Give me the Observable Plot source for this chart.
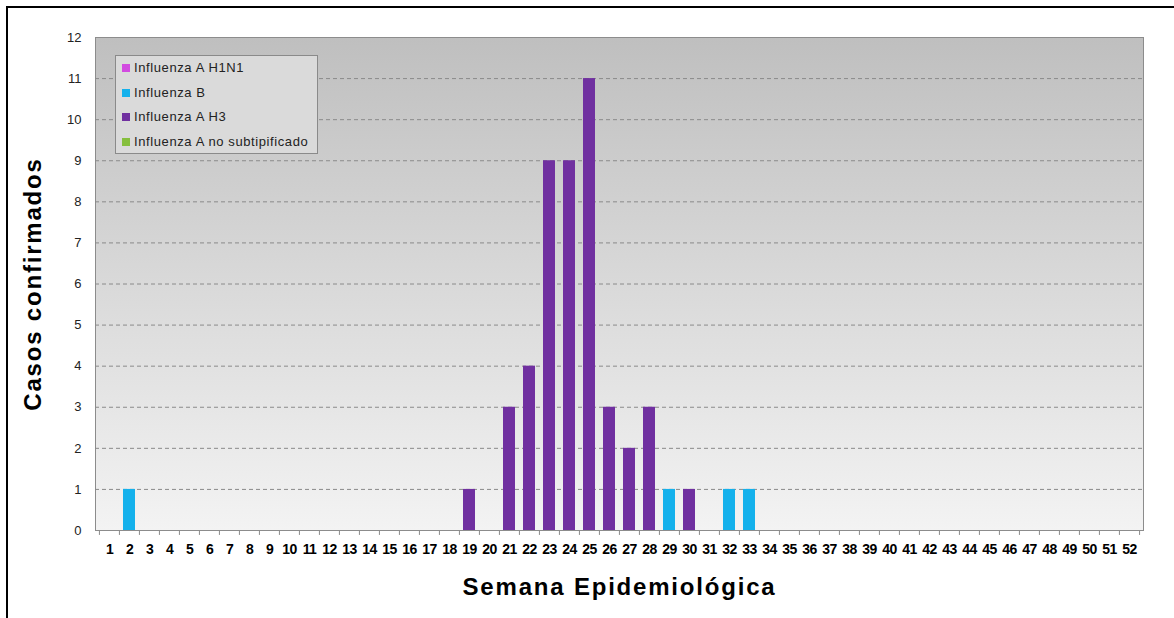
<!DOCTYPE html>
<html>
<head>
<meta charset="utf-8">
<script src="https://cdn.jsdelivr.net/npm/d3@7"></script>
<script src="https://cdn.jsdelivr.net/npm/@observablehq/plot@0.6"></script>
<style>
  html, body { margin: 0; padding: 0; background: #fff; width: 1174px; height: 618px; overflow: hidden; }
  #frame { position: absolute; left: 6px; top: 6px; width: 1300px; height: 800px; border: 2px solid #000; box-sizing: border-box; }
  #chart { position: absolute; left: 0; top: 0; }
  #legend { position: absolute; left: 115px; top: 55px; width: 201px; height: 97px; background: #dadada; border: 1px solid #8a8a8a;
            font-family: "Liberation Sans", Arial, sans-serif; font-size: 13px; letter-spacing: 0.6px; color: #222; }
  #legend .item { position: absolute; left: 6px; height: 14px; line-height: 14px; white-space: nowrap; }
  #legend .sw { display: inline-block; width: 8px; height: 8px; margin-right: 4px; vertical-align: 0px; }
</style>
</head>
<body>
<div id="frame"></div>
<div id="chart"></div>
<div id="legend"></div>
<script>
// ---- data ----
const weeks = [1,2,3,4,5,6,7,8,9,10,11,12,13,14,15,16,17,18,19,20,21,22,23,24,25,26,27,28,29,30,31,32,33,34,35,36,37,38,39,40,41,42,43,44,45,46,47,48,49,50,51,52];
const seriesNames = ["Influenza A H1N1", "Influenza B", "Influenza A H3", "Influenza A no subtipificado"];
const seriesColors = ["#d24be0", "#14b1ec", "#7030a0", "#86bf3e"];
const yTicks = [0,1,2,3,4,5,6,7,8,9,10,11,12];

const h1n1Weeks = [];
const h1n1Counts = [];
const bWeeks = [2, 29, 32, 33];
const bCounts = [1, 1, 1, 1];
const h3Weeks = [19, 21, 22, 23, 24, 25, 26, 27, 28, 30];
const h3Counts = [1, 3, 4, 9, 9, 11, 3, 2, 3, 1];
const nsWeeks = [];
const nsCounts = [];

const yTitle = "Casos confirmados";
const xTitle = "Semana Epidemiológica";

// ---- build table ----
const rows = [];
[[h1n1Weeks, h1n1Counts, 0], [bWeeks, bCounts, 1], [h3Weeks, h3Counts, 2], [nsWeeks, nsCounts, 3]].forEach(([w, c, i]) => {
  w.forEach((wk, j) => rows.push({week: wk, count: c[j], series: seriesNames[i]}));
});

const W = 1174, H = 618, mL = 95, mR = 31, mT = 37, mB = 88;
const bw = (W - mL - mR) / weeks.length;
const boundaryTicks = weeks.map(w => ({week: w, off: -1})).concat([{week: weeks[weeks.length - 1], off: 1}]);

const chart = Plot.plot({
  width: W, height: H,
  marginLeft: mL, marginRight: mR, marginTop: mT, marginBottom: mB,
  style: {background: "transparent", overflow: "visible"},
  x: {type: "band", domain: weeks, padding: 0.4, label: null},
  y: {domain: [0, 12], label: null},
  color: {domain: seriesNames, range: seriesColors},
  marks: [
    Plot.frame({fill: "url(#bgGrad)", stroke: "#8c8c8c"}),
    Plot.gridY({ticks: yTicks.slice(1, -1), stroke: "#8a8a8a", strokeOpacity: 1, strokeDasharray: "4,3"}),
    Plot.barY(rows, {x: "week", y: "count", fill: "series"}),
    Plot.ruleY([0], {stroke: "#8c8c8c"}),
    Plot.ruleX(boundaryTicks.filter(d => d.off < 0), {x: "week", y1: 0, y2: -0.12, dx: -bw / 2, stroke: "#8c8c8c"}),
    Plot.ruleX(boundaryTicks.filter(d => d.off > 0), {x: "week", y1: 0, y2: -0.12, dx: bw / 2, stroke: "#8c8c8c"}),
    Plot.axisY({ticks: yTicks, tickSize: 0, tickPadding: 14, label: null, fontSize: 13, fill: "#222",
                fontFamily: "Liberation Sans, Arial, sans-serif"}),
    Plot.axisX({tickSize: 0, tickPadding: 14, label: null, fontSize: 14, fontWeight: "bold", fill: "#000",
                fontFamily: "Liberation Sans Narrow, Arial Narrow, Liberation Sans, sans-serif"}),
    Plot.text([yTitle], {frameAnchor: "left", dx: -62, rotate: -90, textAnchor: "middle", fontSize: 24, fontWeight: "bold",
                fontFamily: "Liberation Sans, Arial, sans-serif", fill: "#000", text: d => d}),
    Plot.text([xTitle], {frameAnchor: "bottom", dy: 64.5, textAnchor: "middle", fontSize: 24, fontWeight: "bold",
                fontFamily: "Liberation Sans, Arial, sans-serif", fill: "#000", text: d => d})
  ]
});

const svg = d3.select(chart.tagName === "svg" ? chart : chart.querySelector("svg"));
// gradient background definition
const defs = svg.insert("defs", ":first-child");
const grad = defs.append("linearGradient").attr("id", "bgGrad").attr("x1", 0).attr("y1", 0).attr("x2", 0).attr("y2", 1);
grad.append("stop").attr("offset", "0%").attr("stop-color", "#bfbfbf");
grad.append("stop").attr("offset", "100%").attr("stop-color", "#f3f3f3");

// letter spacing for the titles and narrow x tick labels
svg.selectAll("text").filter(function() { return this.textContent === xTitle || this.textContent === yTitle; })
  .attr("letter-spacing", "1.8px");
svg.selectAll("g[aria-label='x-axis tick label'] text").attr("letter-spacing", "-0.6px");

document.getElementById("chart").appendChild(chart);

// legend
const legend = d3.select("#legend");
seriesNames.forEach((name, i) => {
  const it = legend.append("div").attr("class", "item").style("top", (5 + i * 24.5) + "px");
  it.append("span").attr("class", "sw").style("background", seriesColors[i]);
  it.append("span").text(name);
});
</script>
</body>
</html>
